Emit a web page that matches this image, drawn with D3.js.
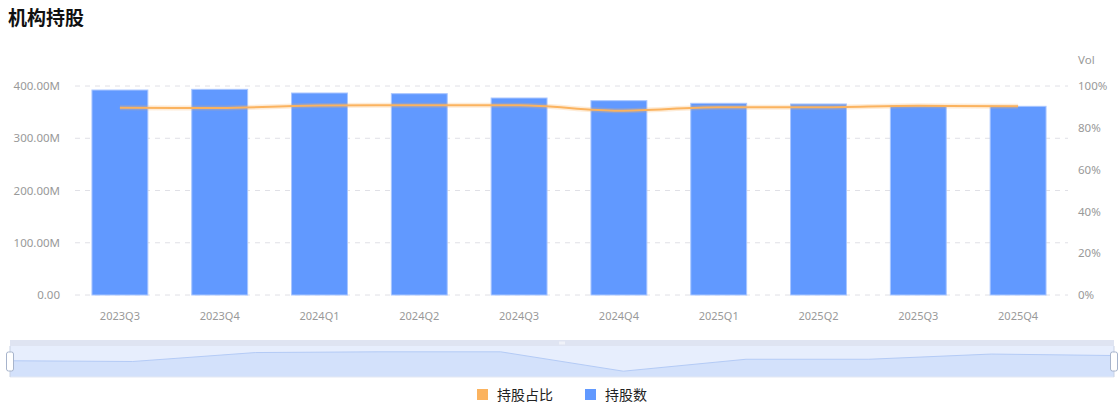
<!DOCTYPE html>
<html>
<head>
<meta charset="utf-8">
<script src="https://cdn.jsdelivr.net/npm/d3@7/dist/d3.min.js"></script>
<style>
  html, body { margin: 0; padding: 0; background: #fff; }
  svg { display: block; font-family: "Noto Sans CJK SC", "Noto Sans", sans-serif; }
</style>
</head>
<body>
<svg id="chart" width="1120" height="407"></svg>
<script>
// 季度
var quarters = ['2023Q3', '2023Q4', '2024Q1', '2024Q2', '2024Q3', '2024Q4', '2025Q1', '2025Q2', '2025Q3', '2025Q4']
// 持股数 (股)
var holdShares = [392.3e6, 393.6e6, 386.6e6, 385.3e6, 377.0e6, 371.9e6, 366.9e6, 365.6e6, 361.7e6, 361.1e6]
// 持股占比 (%)
var holdRatio = [89.6, 89.5, 90.7, 90.8, 90.8, 88.2, 89.8, 89.8, 90.5, 90.3]
var leftTicks = [0, 100e6, 200e6, 300e6, 400e6]
var rightTicks = [0, 20, 40, 60, 80, 100]
var legendNames = ['持股占比', '持股数']

var barColor = '#6199ff'
var lineColor = '#fbb35f'
var labelColor = '#999'

var svg = d3.select('#chart')
var margin = { top: 86, right: 52, bottom: 112, left: 70 }
var width = 1120 - margin.left - margin.right
var height = 407 - margin.top - margin.bottom

// 标题
svg.append('text')
  .attr('x', 8)
  .attr('y', 25)
  .attr('font-size', 19)
  .attr('font-weight', 'bold')
  .attr('fill', '#111')
  .text('机构持股')

var g = svg.append('g')
  .attr('transform', 'translate(' + margin.left + ',' + margin.top + ')')

var x = d3.scaleBand().domain(quarters).range([0, width]).paddingInner(0.44).paddingOuter(0.22)
var xc = d3.scaleBand().domain(quarters).range([0, width])
var yL = d3.scaleLinear().domain([0, 400e6]).range([height, 0])
var yR = d3.scaleLinear().domain([0, 100]).range([height, 0])

// 网格
g.selectAll('.grid')
  .data(leftTicks)
  .enter()
  .append('line')
  .attr('class', 'grid')
  .attr('x1', 5)
  .attr('x2', width)
  .attr('y1', function (d) { return yL(d) })
  .attr('y2', function (d) { return yL(d) })
  .attr('stroke', '#e0e0e6')
  .attr('stroke-dasharray', '5,5')

// 左轴
var leftAxis = g.append('g')
  .call(d3.axisLeft(yL).tickValues(leftTicks).tickSize(0).tickPadding(10)
    .tickFormat(function (d) { return d === 0 ? '0.00' : (d / 1e6).toFixed(2) + 'M' }))
leftAxis.select('.domain').remove()
leftAxis.selectAll('text').attr('fill', labelColor).attr('font-size', 11.5)
  .attr('font-family', '"Noto Sans", sans-serif')

// 右轴
var rightAxis = g.append('g')
  .attr('transform', 'translate(' + width + ',0)')
  .call(d3.axisRight(yR).tickValues(rightTicks).tickSize(0).tickPadding(10)
    .tickFormat(function (d) { return d + '%' }))
rightAxis.select('.domain').remove()
rightAxis.selectAll('text').attr('fill', labelColor).attr('font-size', 11.5)
  .attr('font-family', '"Noto Sans", sans-serif')

g.append('text')
  .attr('x', width + 10)
  .attr('y', -22)
  .attr('fill', labelColor)
  .attr('font-size', 11.5)
  .attr('font-family', '"Noto Sans", sans-serif')
  .text('Vol')

// x 轴
var bottomAxis = g.append('g')
  .attr('transform', 'translate(0,' + height + ')')
  .call(d3.axisBottom(xc).tickSize(0).tickPadding(17))
bottomAxis.select('.domain').remove()
bottomAxis.selectAll('text').attr('fill', labelColor).attr('font-size', 11)
  .attr('font-family', '"Noto Sans", sans-serif')

// 柱
g.selectAll('.bar')
  .data(holdShares)
  .enter()
  .append('rect')
  .attr('class', 'bar')
  .attr('x', function (d, i) { return x(quarters[i]) })
  .attr('y', function (d) { return yL(d) })
  .attr('width', x.bandwidth())
  .attr('height', function (d) { return height - yL(d) })
  .attr('fill', barColor)
  .attr('stroke', '#a9c6ff')
  .attr('stroke-width', 1)

// 折线
var line = d3.line()
  .x(function (d, i) { return xc(quarters[i]) + xc.bandwidth() / 2 })
  .y(function (d) { return yR(d) })
  .curve(d3.curveMonotoneX)

g.append('path')
  .datum(holdRatio)
  .attr('d', line)
  .attr('fill', 'none')
  .attr('stroke', lineColor)
  .attr('stroke-opacity', 0.25)
  .attr('stroke-width', 5)
g.append('path')
  .datum(holdRatio)
  .attr('d', line)
  .attr('fill', 'none')
  .attr('stroke', lineColor)
  .attr('stroke-width', 2)

// 缩放条
var zx0 = 10, zx1 = 1114, zTop = 340, zBand = 6, zBottom = 377
var zoomG = svg.append('g')
zoomG.append('rect')
  .attr('x', zx0).attr('y', zTop).attr('width', zx1 - zx0).attr('height', zBand)
  .attr('fill', '#dfe4f2')
zoomG.append('rect')
  .attr('x', zx0).attr('y', zTop + zBand).attr('width', zx1 - zx0).attr('height', zBottom - zTop - zBand)
  .attr('fill', '#e7eefd')

var ext = d3.extent(holdRatio)
var off = (ext[1] - ext[0]) * 0.3
var sx = d3.scalePoint().domain(quarters).range([zx0, zx1])
var sy = d3.scaleLinear().domain([ext[0] - off, ext[1] + off]).range([zBottom, zTop + zBand])
var area = d3.area()
  .x(function (d, i) { return sx(quarters[i]) })
  .y0(zBottom)
  .y1(function (d) { return sy(d) })
zoomG.append('path')
  .datum(holdRatio)
  .attr('d', area)
  .attr('fill', '#d3e1fb')
zoomG.append('path')
  .datum(holdRatio)
  .attr('d', d3.line().x(function (d, i) { return sx(quarters[i]) }).y(function (d) { return sy(d) }))
  .attr('fill', 'none')
  .attr('stroke', '#b4cbf6')
  .attr('stroke-width', 1)
zoomG.append('line')
  .attr('x1', zx0).attr('x2', zx1).attr('y1', zBottom).attr('y2', zBottom)
  .attr('stroke', '#e3e8f3')

// 中间把手
for (var hI = -1; hI <= 1; hI++) {
  zoomG.append('line')
    .attr('x1', 562 + hI * 2).attr('x2', 562 + hI * 2)
    .attr('y1', zTop + 1.5).attr('y2', zTop + 4.5)
    .attr('stroke', '#fff')
    .attr('stroke-width', 1)
}
// 左右把手
;[zx0, zx1].forEach(function (hx) {
  zoomG.append('line')
    .attr('x1', hx).attr('x2', hx).attr('y1', zTop + zBand).attr('y2', zBottom)
    .attr('stroke', '#c9d2e4')
  zoomG.append('rect')
    .attr('x', hx - 3.5).attr('y', 352).attr('width', 7).attr('height', 19)
    .attr('rx', 2).attr('ry', 2)
    .attr('fill', '#fff')
    .attr('stroke', '#a7b4cc')
    .attr('stroke-width', 1)
})

// 图例
var legendColors = [lineColor, barColor]
var legendX = [477, 585]
legendNames.forEach(function (name, i) {
  svg.append('rect')
    .attr('x', legendX[i]).attr('y', 389).attr('width', 11).attr('height', 11)
    .attr('fill', legendColors[i])
  svg.append('text')
    .attr('x', legendX[i] + 20).attr('y', 399.5)
    .attr('font-size', 14)
    .attr('fill', '#222')
    .text(name)
})
</script>
</body>
</html>
